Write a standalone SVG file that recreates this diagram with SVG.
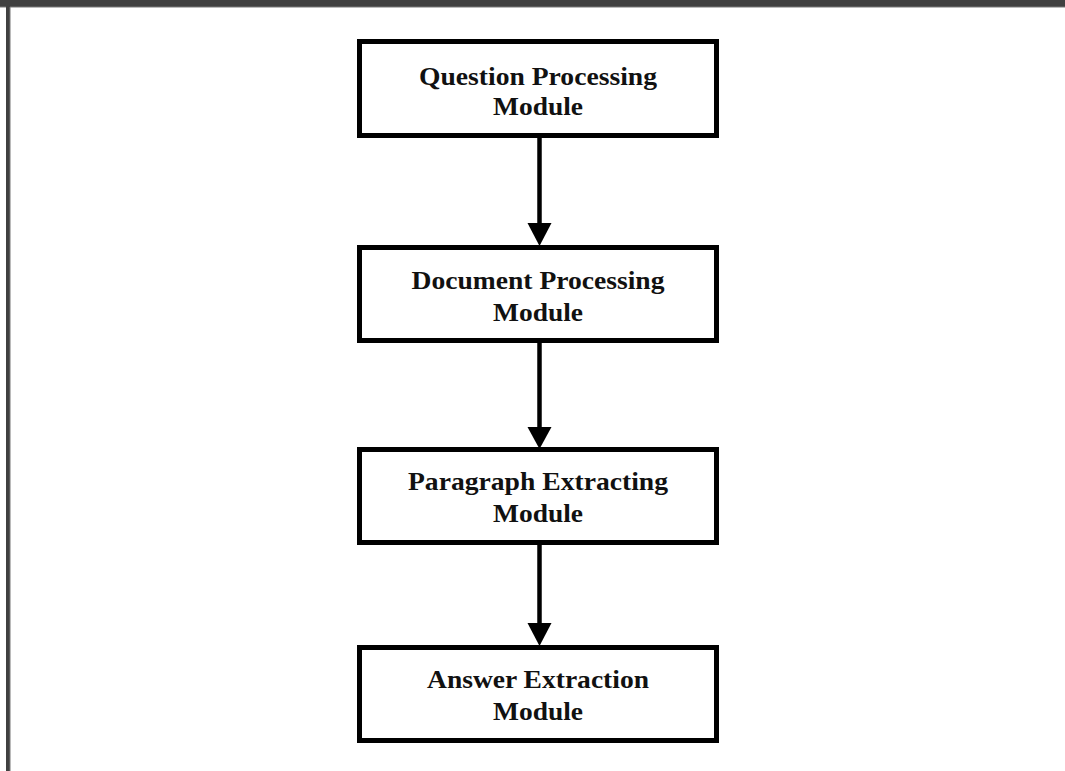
<svg xmlns="http://www.w3.org/2000/svg" width="1065" height="771" viewBox="0 0 1065 771">
  <style>
    .box { fill: #ffffff; stroke: #000000; stroke-width: 5; }
    .lbl { font-family: "Liberation Serif", "Times New Roman", serif; font-weight: bold; font-size: 26px; fill: #111111; text-anchor: middle; }
    .conn { stroke: #000000; stroke-width: 4.5; fill: none; }
    .head { fill: #000000; }
  </style>
  <rect x="0" y="0" width="1065" height="771" fill="#ffffff"/>
  <rect x="0" y="0" width="1065" height="7" fill="#404040"/>
  <rect x="0" y="6.5" width="1065" height="1" fill="#777777"/>
  <rect x="6" y="0" width="4" height="771" fill="#404040"/>
  <rect x="9.5" y="7" width="1" height="764" fill="#777777"/>

  <g id="connectors">
    <line class="conn" x1="539.5" y1="138" x2="539.5" y2="225"/>
    <polygon class="head" points="527.5,223 551.5,223 539.5,246"/>
    <line class="conn" x1="539.5" y1="343" x2="539.5" y2="430"/>
    <polygon class="head" points="527.5,427 551.5,427 539.5,449"/>
    <line class="conn" x1="539.5" y1="535" x2="539.5" y2="625"/>
    <polygon class="head" points="527.5,623 551.5,623 539.5,646"/>
  </g>

  <g id="node-question">
    <rect class="box" x="359.5" y="41.5" width="357" height="94"/>
    <text class="lbl" x="538" y="85" textLength="238" lengthAdjust="spacingAndGlyphs">Question Processing</text>
    <text class="lbl" x="538" y="115" textLength="90" lengthAdjust="spacingAndGlyphs">Module</text>
  </g>

  <g id="node-document">
    <rect class="box" x="359.5" y="247.5" width="357" height="93"/>
    <text class="lbl" x="538" y="288.5" textLength="253" lengthAdjust="spacingAndGlyphs">Document Processing</text>
    <text class="lbl" x="538" y="320.5" textLength="90" lengthAdjust="spacingAndGlyphs">Module</text>
  </g>

  <g id="node-paragraph">
    <rect class="box" x="359.5" y="449.5" width="357" height="93"/>
    <text class="lbl" x="538" y="490" textLength="260" lengthAdjust="spacingAndGlyphs">Paragraph Extracting</text>
    <text class="lbl" x="538" y="521.5" textLength="90" lengthAdjust="spacingAndGlyphs">Module</text>
  </g>

  <g id="node-answer">
    <rect class="box" x="359.5" y="647.5" width="357" height="93"/>
    <text class="lbl" x="538" y="688" textLength="222" lengthAdjust="spacingAndGlyphs">Answer Extraction</text>
    <text class="lbl" x="538" y="720" textLength="90" lengthAdjust="spacingAndGlyphs">Module</text>
  </g>
</svg>
